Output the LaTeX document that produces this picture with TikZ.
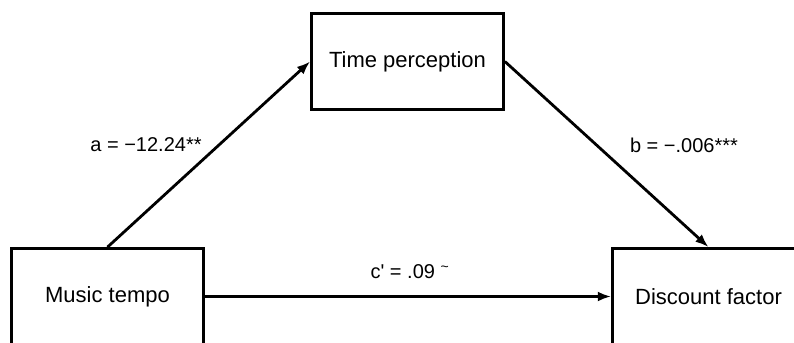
\documentclass[tikz,border=0pt]{standalone}
\usepackage{fontspec}
\setmainfont{Liberation Sans}
\usetikzlibrary{arrows.meta}

\begin{document}
\begin{tikzpicture}[x=0.75pt, y=-0.75pt, line width=2.1pt,
    varbox/.style={draw, rectangle, minimum width=144pt, minimum height=72pt,
                   inner sep=0pt, font=\fontsize{16.5}{19}\selectfont},
    coef/.style={font=\fontsize{15}{18}\selectfont},
    path/.style={-{Latex[length=10pt, width=7.5pt]}}]

    % Picture frame (boxes run past the lower edge)
    \useasboundingbox (0,0) rectangle (794,343);
    \clip (0,0) rectangle (794,343);

    % Variables
    \node[varbox] (tp) at (407.5,61.5) {Time perception};
    \node[varbox] (mt) at (107.5,296.5) {Music tempo};
    \node[varbox] (df) at (708.5,296.5) {Discount factor};

    % Paths between the variables
    \draw[path] (mt.north) -- (tp.west);
    \draw[path] (tp.east) -- (df.north);
    \draw[path] (mt.east) -- (df.west);

    % Coefficients
    \node[coef] (a) at (146,145) {a = −12.24**};
    \node[coef] (b) at (684,145) {b = −.006***};
    \node[coef] (c) at (410,272) {c\textquotesingle{} = .09 \textsuperscript{\char`\~}};

\end{tikzpicture}
\end{document}
